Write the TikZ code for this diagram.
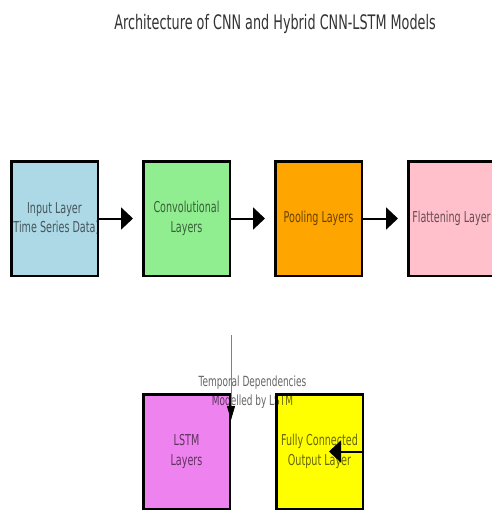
\documentclass[tikz,border=0pt]{standalone}
\usepackage{fontspec}
\setmainfont{DejaVu Sans}[FakeStretch=0.64]
\usetikzlibrary{positioning,arrows.meta}
\definecolor{inputblue}{RGB}{173,216,230}
\definecolor{convgreen}{RGB}{144,238,144}
\definecolor{poolorange}{RGB}{255,165,0}
\definecolor{flatpink}{RGB}{255,192,203}
\definecolor{lstmviolet}{RGB}{238,130,238}
\definecolor{fcyellow}{RGB}{255,255,0}

\begin{document}
\begin{tikzpicture}[x=1pt,y=-1pt,node distance=43pt,
  layer/.style={draw=black,line width=2.5pt,minimum width=86.5pt,minimum height=114.5pt,inner sep=0pt},
  layertext/.style={align=center,font=\fontsize{15}{19.5}\selectfont,text opacity=0.6,inner sep=0pt},
  flow/.style={-{Triangle[length=12pt,width=22pt]},line width=2pt,shorten >=9pt}]
   \useasboundingbox[fill=white] (0,0) rectangle (492,512);
   \node[font=\fontsize{20}{24}\selectfont,text=black!80] (title) at (275,24) {Architecture of CNN and Hybrid CNN-LSTM Models};
   % CNN part
   \node[layer,fill=inputblue,label={[layertext]center:Input Layer\\(Time Series Data)}] (input) at (54.5,218.5) {};
   \node[layer,fill=convgreen,label={[layertext]center:Convolutional\\Layers}] (conv) [right=of input] {};
   \node[layer,fill=poolorange,label={[layertext]center:Pooling Layers}] (pool) [right=of conv] {};
   \node[layer,fill=flatpink,label={[layertext]center:Flattening Layer}] (flat) [right=44pt of pool] {};
   % hybrid part
   \node[layer,fill=lstmviolet,label={[layertext]center:LSTM\\Layers}] (lstm) [below=116pt of conv] {};
   \node[layer,fill=fcyellow,label={[layertext]center:Fully Connected\\Output Layer}] (fc) [right=44pt of lstm] {};
   \path[flow]
    (input) edge (conv)
    (conv) edge (pool)
    (pool) edge (flat);
   \draw[flow,shorten >=0pt] (fc.east) -- ([xshift=-35pt]fc.east);
   \node[layertext,font=\fontsize{14}{18.5}\selectfont] (temporal) at (252.5,392) {Temporal Dependencies\\Modelled by LSTM};
   \coordinate (src) at (231,335);
   \draw[gray,line width=0.8pt,-{Triangle[length=14pt,width=8pt,fill=black,color=black]}] (src) -- ([yshift=-27pt]lstm.north east);
\end{tikzpicture}
\end{document}
